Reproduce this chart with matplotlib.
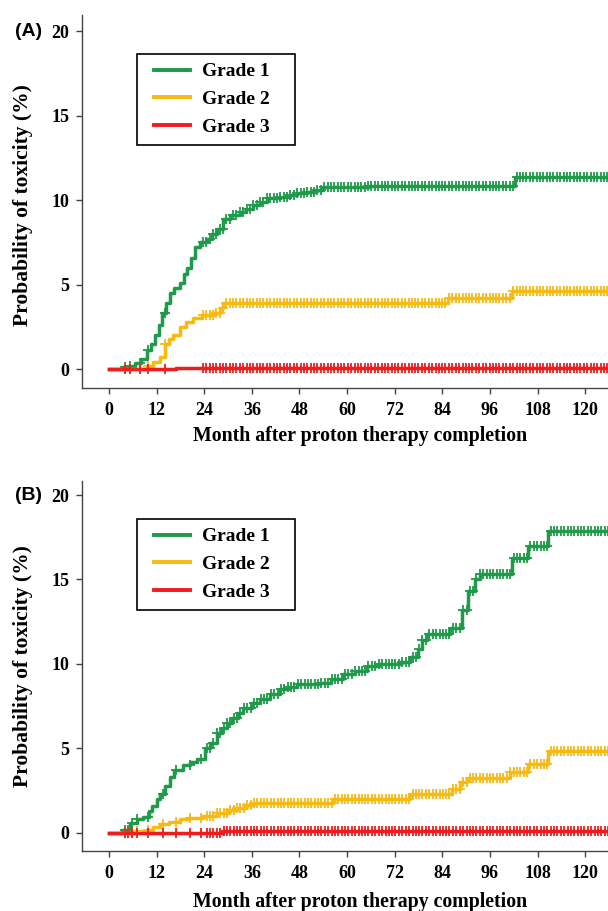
#!/usr/bin/env python
# -*- coding: utf-8 -*-
"""
Cumulative incidence of toxicity after proton therapy, panels (A) and (B)
"""

import numpy as np
import matplotlib
matplotlib.use('Agg')
import matplotlib.pyplot as plt
from matplotlib.legend_handler import HandlerLine2D

# ---------- 数据 ----------
GRADES = ['Grade 1', 'Grade 2', 'Grade 3']
X_TICKS = [0, 12, 24, 36, 48, 60, 72, 84, 96, 108, 120]
Y_TICKS = [0, 5, 10, 15, 20]

# panel A: step times (month) / cumulative probability (%)
A_G1_T = [0, 3.5, 5, 6.5, 8, 9.5, 10.5, 11.5, 12.5, 13.4, 14.3, 15.4, 16.5, 17.9, 18.8,
          19.6, 20.6, 21.7, 23, 24.7, 26, 27.2, 28.8, 30.5, 33, 34.5, 36.3, 38, 39.8,
          43, 45.5, 47.4, 50, 52, 54, 65.3, 102.3]
A_G1_P = [0, 0.1, 0.2, 0.35, 0.6, 1.1, 1.5, 2.0, 2.6, 3.3, 3.9, 4.5, 4.8, 5.1, 5.6,
          6.0, 6.6, 7.2, 7.5, 7.7, 8.0, 8.3, 8.9, 9.1, 9.3, 9.5, 9.7, 9.9, 10.1,
          10.2, 10.3, 10.4, 10.5, 10.6, 10.75, 10.85, 11.35]
A_G2_T = [0, 9.5, 11, 12.9, 14.1, 15, 16.1, 17.9, 19.5, 21.2, 23.5, 26.3, 28, 28.8, 85.5, 101.6]
A_G2_P = [0, 0.2, 0.4, 0.7, 1.5, 1.8, 2.0, 2.5, 2.8, 3.0, 3.2, 3.3, 3.6, 3.9, 4.2, 4.6]
A_G3_T = [0, 17]
A_G3_P = [0, 0.08]
A_CENSOR = [4.0, 5.3, 7.8, 9.9, 14.1,
            23.7, 24.5, 25.4, 26.2, 27.0, 27.9, 28.7, 29.6, 30.4, 31.3, 32.1, 33.0, 33.8,
            34.7, 35.5, 36.4, 37.2, 38.1, 38.9, 39.8, 40.6, 41.5, 42.3, 43.2, 44.0, 44.9,
            45.7, 46.6, 47.4, 48.3, 49.1, 50.0, 50.8, 51.7, 52.5, 53.4, 54.2, 55.1, 55.9,
            56.8, 57.6, 58.5, 59.3, 60.2, 61.0, 61.9, 62.7, 63.6, 64.4, 65.3, 66.1, 67.0,
            67.8, 68.7, 69.5, 70.4, 71.2, 72.1, 72.9, 73.8, 74.6, 75.5, 76.3, 77.2, 78.0,
            78.9, 79.7, 80.6, 81.4, 82.3, 83.1, 84.0, 84.8, 85.7, 86.5, 87.4, 88.2, 89.1,
            89.9, 90.8, 91.6, 92.5, 93.3, 94.2, 95.0, 95.9, 96.7, 97.6, 98.4, 99.3, 100.1,
            101.0, 101.8, 102.7, 103.5, 104.4, 105.2, 106.1, 106.9, 107.8, 108.6, 109.5,
            110.3, 111.2, 112.0, 112.9, 113.7, 114.6, 115.4, 116.3, 117.1, 118.0, 118.8,
            119.7, 120.5, 121.4, 122.2, 123.1, 123.9, 124.8, 125.6, 126.5, 127.3, 128.2,
            129.0, 129.9, 130.7]

# panel B
B_G1_T = [0, 3.3, 5.3, 7, 8.6, 10, 10.8, 12, 12.9, 14, 15.4, 16.5, 18.7, 20.5, 22.2,
          24.2, 25.5, 27.2, 28.5, 29.7, 31, 32.5, 33.8, 36, 38, 40.5, 43.1, 45, 47.3,
          53.2, 56, 59, 62, 65, 68, 73.4, 75.9, 77.9, 79, 80.2, 86, 89, 90.5, 92.3, 93.5,
          101.6, 105.6, 110.6]
B_G1_P = [0, 0.2, 0.6, 0.8, 0.95, 1.3, 1.6, 2.0, 2.3, 2.8, 3.3, 3.7, 4.0, 4.2, 4.4,
          5.0, 5.3, 5.9, 6.2, 6.5, 6.8, 7.1, 7.4, 7.7, 7.9, 8.2, 8.5, 8.65, 8.8,
          8.9, 9.1, 9.4, 9.6, 9.9, 10.0, 10.1, 10.4, 10.9, 11.4, 11.8, 12.1, 13.2, 14.3,
          15.0, 15.3, 16.3, 17.0, 17.9]
B_G2_T = [0, 7, 9.5, 11, 12.9, 15, 17.9, 20, 23.7, 27.2, 30, 32.3, 34.5, 36.3, 56.5,
          75.9, 86.5, 88.5, 90.2, 101, 105.6, 110.6]
B_G2_P = [0, 0.1, 0.2, 0.35, 0.5, 0.65, 0.8, 0.9, 1.0, 1.2, 1.35, 1.5, 1.65, 1.8, 2.0,
          2.3, 2.6, 3.0, 3.25, 3.6, 4.1, 4.85]
B_G3_T = [0, 28.8]
B_G3_P = [0, 0.1]
B_CENSOR = [4.0, 4.9, 5.9, 7.0, 9.9, 13.7, 17.0, 20.4, 23.3,
            24.6, 25.4, 26.3, 27.2,
            28.1, 28.9, 29.7, 30.6, 31.4, 32.3, 33.1, 34.0, 34.8, 35.7, 36.5, 37.4, 38.2,
            39.1, 39.9, 40.8, 41.6, 42.5, 43.3, 44.2, 45.0, 45.9, 46.7, 47.6, 48.4, 49.3,
            50.1, 51.0, 51.8, 52.7, 53.5, 54.4, 55.2, 56.1, 56.9, 57.8, 58.6, 59.5, 60.3,
            61.2, 62.0, 62.9, 63.7, 64.6, 65.4, 66.3, 67.1, 68.0, 68.8, 69.7, 70.5, 71.4,
            72.2, 73.1, 73.9, 74.8, 75.6, 76.5, 77.3, 78.2, 79.0, 79.9, 80.7, 81.6, 82.4,
            83.3, 84.1, 85.0, 85.8, 86.7, 87.5, 88.4, 89.2, 90.1, 90.9, 91.8, 92.6, 93.5,
            94.3, 95.2, 96.0, 96.9, 97.7, 98.6, 99.4, 100.3, 101.1, 102.0, 102.8, 103.7,
            104.5, 105.4, 106.2, 107.1, 107.9, 108.8, 109.6, 110.5, 111.3, 112.2, 113.0,
            113.9, 114.7, 115.6, 116.4, 117.3, 118.1, 119.0, 119.8, 120.7, 121.5, 122.4,
            123.2, 124.1, 124.9, 125.8, 126.6, 127.5, 128.3, 129.2, 130.0, 130.9]

# 配色
COLORS = ['#1E9A4A', '#F7BA12', '#EE1C1C']
AXIS_COLOR = '#444444'

SERIF = ['Liberation Serif', 'DejaVu Serif']


def set_style():
    plt.rcParams.update({
        'font.family': SERIF,
        'font.weight': 'bold',
        'axes.labelweight': 'bold',
        'axes.linewidth': 1.0,
        'axes.edgecolor': AXIS_COLOR,
    })


def step_value(times, probs, t):
    """value of the right-continuous step curve at time t"""
    idx = np.searchsorted(times, t, side='right') - 1
    return np.asarray(probs)[np.clip(idx, 0, None)]


def draw_panel(fig, rect, curves, censor, ylim, label_y, ylabel_y, legend_y):
    ax = fig.add_axes(rect)
    t_end = 131.5
    for (times, probs), color, name in zip(curves, COLORS, GRADES):
        tt = list(times) + [t_end]
        pp = list(probs) + [probs[-1]]
        ax.step(tt, pp, where='post', color=color, lw=2.5, label=name, zorder=2)
        ct = np.asarray(censor)
        ax.plot(ct, step_value(times, probs, ct), ls='none', marker='+',
                ms=6.5, mew=1.3, color=color, zorder=3)

    ax.set_xlim(-6.8, 131.3)
    ax.set_ylim(*ylim)
    ax.set_xticks(X_TICKS)
    ax.set_yticks(Y_TICKS)
    ax.spines['top'].set_visible(False)
    ax.spines['right'].set_visible(False)
    ax.tick_params(direction='out', length=4, width=1, color=AXIS_COLOR,
                   labelsize=13)
    ax.tick_params(axis='x', pad=6)
    ax.tick_params(axis='y', pad=5)

    ax.set_xlabel('Month after proton therapy completion', fontsize=14.3)
    ax.xaxis.label.set_va('center')
    ax.xaxis.set_label_coords(0.508, label_y)
    ax.set_ylabel('Probability of toxicity (%)', fontsize=15.5)
    ax.yaxis.label.set_va('center')
    ax.yaxis.set_label_coords(-0.107, ylabel_y)

    # legend box 158 x 89 px, fixed width via mode='expand'
    lw_ax = 158 / 548
    lh_ax = 89 / (rect[3] * 911)
    leg = ax.legend(loc='upper left', mode='expand',
                    bbox_to_anchor=(0.1004, legend_y - lh_ax, lw_ax, lh_ax),
                    borderaxespad=0, fancybox=False, framealpha=1,
                    edgecolor='black', fontsize=14, handlelength=2.25,
                    handletextpad=0.65, labelspacing=0.52, borderpad=0.45,
                    handler_map={plt.Line2D: HandlerLine2D(xpad=0.4)})
    leg.get_frame().set_linewidth(1.2)
    for h in leg.get_lines():
        h.set_linewidth(2.8)

    return ax


def main():
    set_style()
    fig = plt.figure(figsize=(6.08, 9.11), dpi=100)
    W, H = 608, 911

    # panel A: spine x 82..630 px, y 15..388 px
    rect_a = [82 / W, (H - 388) / H, 548 / W, 373 / H]
    draw_panel(fig, rect_a,
               [(A_G1_T, A_G1_P), (A_G2_T, A_G2_P), (A_G3_T, A_G3_P)],
               A_CENSOR, (-1.12, 20.95), -0.128, 0.49, 0.8954)

    # panel B: spine y 481..851 px
    rect_b = [82 / W, (H - 851) / H, 548 / W, 370 / H]
    draw_panel(fig, rect_b,
               [(B_G1_T, B_G1_P), (B_G2_T, B_G2_P), (B_G3_T, B_G3_P)],
               B_CENSOR, (-1.07, 20.83), -0.137, 0.50, 0.897)

    fig.text(15 / W, 1 - 31 / H, '(A)', family='Liberation Sans', weight='bold',
             fontsize=14, ha='left', va='center')
    fig.text(15 / W, 1 - 495 / H, '(B)', family='Liberation Sans', weight='bold',
             fontsize=14, ha='left', va='center')

    fig.savefig('out.png', dpi=100)
    plt.close(fig)


if __name__ == '__main__':
    main()
